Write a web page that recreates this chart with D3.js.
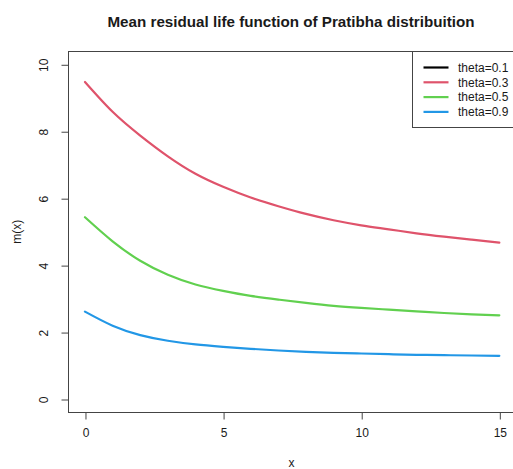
<!DOCTYPE html>
<html>
<head>
<meta charset="utf-8">
<script src="https://cdn.jsdelivr.net/npm/d3@7"></script>
<style>
  html, body { margin: 0; padding: 0; background: #fff; }
  svg { display: block; font-family: "Liberation Sans", Arial, sans-serif; }
</style>
</head>
<body>
<svg id="chart" width="513" height="469"></svg>
<script>
// ---- data ----
const xValues = [0, 1, 2, 3, 4, 5, 6, 7, 8, 9, 10, 11, 12, 13, 14, 15];
const theta01 = []; // lies above the visible range in the reference
const theta03 = [9.47, 8.58, 7.87, 7.25, 6.73, 6.34, 6.02, 5.76, 5.53, 5.34, 5.19, 5.07, 4.95, 4.85, 4.76, 4.67];
const theta05 = [5.43, 4.71, 4.13, 3.71, 3.42, 3.23, 3.08, 2.97, 2.87, 2.78, 2.72, 2.67, 2.62, 2.57, 2.53, 2.50];
const theta09 = [2.61, 2.19, 1.91, 1.74, 1.63, 1.56, 1.50, 1.45, 1.41, 1.38, 1.36, 1.34, 1.32, 1.31, 1.30, 1.29];
const seriesNames = ["theta=0.1", "theta=0.3", "theta=0.5", "theta=0.9"];
const seriesColors = ["#000000", "#DF536B", "#61D04F", "#2297E6"];
const xTicks = [0, 5, 10, 15];
const yTicks = [0, 2, 4, 6, 8, 10];
const titleText = "Mean residual life function of Pratibha distribuition";
const xLabel = "x";
const yLabel = "m(x)";

const allSeries = [theta01, theta03, theta05, theta09];

// ---- layout ----
const svg = d3.select("#chart");
const pLeft = 68.4, pRight = 515.9, pTop = 50.9, pBottom = 412.4;

const x = d3.scaleLinear().domain([-0.6, 15.6]).range([pLeft, pRight]);
const y = d3.scaleLinear().domain([-0.4, 10.4]).range([pBottom, pTop]);

const lineColor = "#444";
const textColor = "#1a1a1a";

// clip
svg.append("defs").append("clipPath").attr("id", "clip")
  .append("rect").attr("x", pLeft).attr("y", pTop).attr("width", pRight - pLeft).attr("height", pBottom - pTop);

// curves
const line = d3.line()
  .x(d => x(d[0]))
  .y(d => y(d[1]))
  .curve(d3.curveNatural);

const plotG = svg.append("g").attr("clip-path", "url(#clip)");
allSeries.forEach((vals, i) => {
  if (!vals.length) return;
  const pts = vals.map((v, j) => [xValues[j], v]);
  plotG.append("path")
    .attr("d", line(pts))
    .attr("fill", "none")
    .attr("stroke", seriesColors[i])
    .attr("stroke-width", 2.2)
    .attr("stroke-linejoin", "round")
    .attr("stroke-linecap", "round");
});

// box
svg.append("rect")
  .attr("x", Math.round(pLeft) + 0.5).attr("y", Math.round(pTop) + 0.5)
  .attr("width", pRight - pLeft).attr("height", Math.round(pBottom) - Math.round(pTop))
  .attr("fill", "none").attr("stroke", lineColor).attr("stroke-width", 1);

// x axis
const xAxis = d3.axisBottom(x).tickValues(xTicks).tickSize(7).tickPadding(9).tickFormat(d3.format("d"));
const gx = svg.append("g").attr("transform", `translate(0.5,${Math.round(pBottom) + 0.5})`).call(xAxis);
gx.select(".domain").attr("d", `M${x(xTicks[0])},0H${x(xTicks[xTicks.length - 1])}`).attr("stroke", lineColor);
gx.selectAll(".tick line").attr("stroke", lineColor);
gx.selectAll(".tick text").attr("fill", textColor).attr("font-size", 12)
  .attr("font-family", "'Liberation Sans', Arial, sans-serif");

// y axis
const yAxis = d3.axisLeft(y).tickValues(yTicks).tickSize(7).tickFormat(d3.format("d"));
const gy = svg.append("g").attr("transform", `translate(${Math.round(pLeft) + 0.5},0.5)`).call(yAxis);
gy.select(".domain").attr("d", `M0,${y(yTicks[0])}V${y(yTicks[yTicks.length - 1])}`).attr("stroke", lineColor);
gy.selectAll(".tick line").attr("stroke", lineColor);
gy.selectAll(".tick text")
  .attr("fill", textColor).attr("font-size", 12)
  .attr("font-family", "'Liberation Sans', Arial, sans-serif")
  .attr("x", null)
  .attr("text-anchor", "middle")
  .attr("transform", "translate(-25,0) rotate(-90)")
  .attr("dy", "0.35em");

// title
svg.append("text")
  .attr("x", 291).attr("y", 27)
  .attr("text-anchor", "middle")
  .attr("font-size", 15.2).attr("font-weight", "bold")
  .attr("fill", textColor)
  .text(titleText);

// axis labels
svg.append("text")
  .attr("x", 291.5).attr("y", 467)
  .attr("text-anchor", "middle").attr("font-size", 12).attr("fill", textColor)
  .text(xLabel);

svg.append("text")
  .attr("transform", `translate(21,${(pTop + pBottom) / 2}) rotate(-90)`)
  .attr("text-anchor", "middle").attr("font-size", 12).attr("fill", textColor)
  .text(yLabel);

// legend
const legLeft = 412.5, legTop = Math.round(pTop) + 0.5, legBottom = 127.5;
const lg = svg.append("g");
lg.append("rect")
  .attr("x", legLeft).attr("y", legTop)
  .attr("width", pRight - legLeft).attr("height", legBottom - legTop)
  .attr("fill", "#fff").attr("stroke", lineColor).attr("stroke-width", 1);
seriesNames.forEach((name, i) => {
  const cy = 67.5 + i * 14.8;
  lg.append("line")
    .attr("x1", 423.5).attr("x2", 448.5).attr("y1", cy).attr("y2", cy)
    .attr("stroke", seriesColors[i]).attr("stroke-width", 2.2);
  lg.append("text")
    .attr("x", 458).attr("y", cy).attr("dy", "0.35em")
    .attr("font-size", 12).attr("fill", textColor)
    .text(name);
});
</script>
</body>
</html>
